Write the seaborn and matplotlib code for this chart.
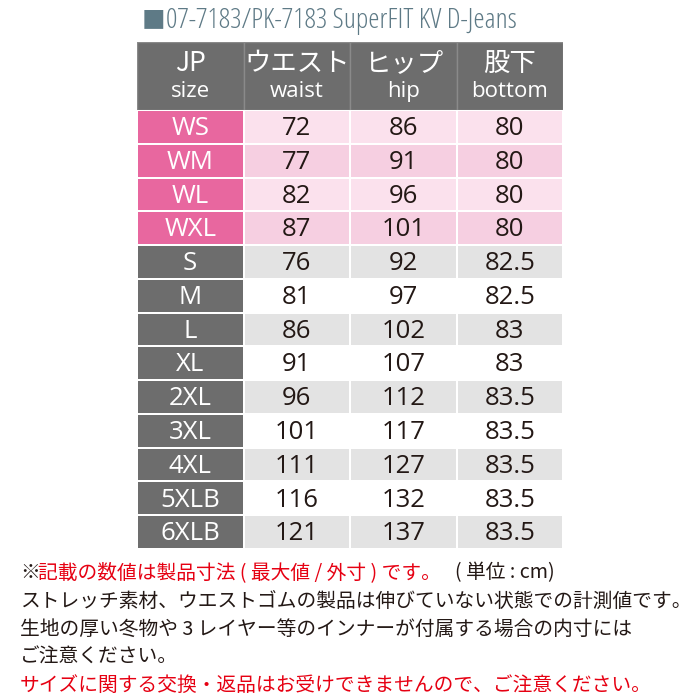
import numpy as np
import matplotlib
matplotlib.use("Agg")
import matplotlib.pyplot as plt
from matplotlib.colors import ListedColormap
from matplotlib.patches import Rectangle
import seaborn as sns

sizes = ["WS","WM","WL","WXL","S","M","L","XL","2XL","3XL","4XL","5XLB","6XLB"]
waist = ["72","77","82","87","76","81","86","91","96","101","111","116","121"]
hip = ["86","91","96","101","92","97","102","107","112","117","127","132","137"]
bottom = ["80","80","80","80","82.5","82.5","83","83","83.5","83.5","83.5","83.5","83.5"]
headers = [("JP","size"),("ウエスト","waist"),("ヒップ","hip"),("股下","bottom")]
title = "07-7183/PK-7183 SuperFIT KV D-Jeans"

FONT = "Noto Sans CJK JP"
plt.rcParams["font.family"] = [FONT, "DejaVu Sans"]

n = len(sizes)
cidx = np.zeros((n, 4), dtype=int)
for i, s in enumerate(sizes):
    ladies = s.startswith("W")
    cidx[i, 0] = 0 if ladies else 3
    if ladies:
        cidx[i, 1:] = 1 if i % 2 == 0 else 2
    else:
        cidx[i, 1:] = 4 if (i - 4) % 2 == 0 else 5
cmap = ListedColormap(["#e8679f", "#fbe1ed", "#f6cfe1", "#6d6d6d", "#e3e3e3", "#ffffff"])

fig = plt.figure(figsize=(7, 7), dpi=100)
W = H = 700.0
x0, x1 = 137, 563
yt, yb = 110, 549
ax = fig.add_axes([x0/W, 1-yb/H, (x1-x0)/W, (yb-yt)/H])
sns.heatmap(cidx, cmap=cmap, vmin=-0.5, vmax=5.5, cbar=False, linewidths=1.2,
            linecolor="white", ax=ax, xticklabels=False, yticklabels=False)
cols = [sizes, waist, hip, bottom]
for i in range(n):
    for j in range(4):
        white = (j == 0)
        ax.text(j + 0.5, i + 0.55, cols[j][i], ha="center", va="center",
                fontsize=18.5, color="white" if white else "#231815", family="Open Sans")

hx = fig.add_axes([x0/W, 1-yt/H, (x1-x0)/W, (yt-42)/H])
hx.set_xlim(0, 4); hx.set_ylim(0, 1); hx.axis("off")
for j, (a, b) in enumerate(headers):
    hx.add_patch(Rectangle((j, 0), 1, 1, facecolor="#6d6d6d", edgecolor="#8a8a8a", lw=1))
    hx.text(j + 0.5, 0.68, a, ha="center", va="center", fontsize=19, color="white")
    hx.text(j + 0.5, 0.27, b, ha="center", va="center", fontsize=16, color="white", family="Open Sans")

fig.text(142/W, 1-21/H, "■", fontsize=17, color="#5e7a86", va="center")
fig.text(166/W, 1-21/H, title, fontsize=20.5, color="#5e7a86", va="center",
         family="Open Sans", stretch="condensed")

fs = 14.2
ny = [573, 601, 629, 657, 685]
fig.text(20/W, 1-ny[0]/H, "※", fontsize=fs, color="#231815", va="center")
fig.text(38/W, 1-ny[0]/H, "記載の数値は製品寸法 ( 最大値 / 外寸 ) です。", fontsize=fs, color="#e60012", va="center")
fig.text(455/W, 1-ny[0]/H, "( 単位 : cm)", fontsize=fs, color="#231815", va="center")
fig.text(20/W, 1-ny[1]/H, "ストレッチ素材、ウエストゴムの製品は伸びていない状態での計測値です。", fontsize=fs, color="#231815", va="center")
fig.text(20/W, 1-ny[2]/H, "生地の厚い冬物や 3 レイヤー等のインナーが付属する場合の内寸には", fontsize=fs, color="#231815", va="center")
fig.text(20/W, 1-ny[3]/H, "ご注意ください。", fontsize=fs, color="#231815", va="center")
fig.text(20/W, 1-ny[4]/H, "サイズに関する交換・返品はお受けできませんので、ご注意ください。", fontsize=fs, color="#e60012", va="center")

fig.savefig("out.png", dpi=100)
